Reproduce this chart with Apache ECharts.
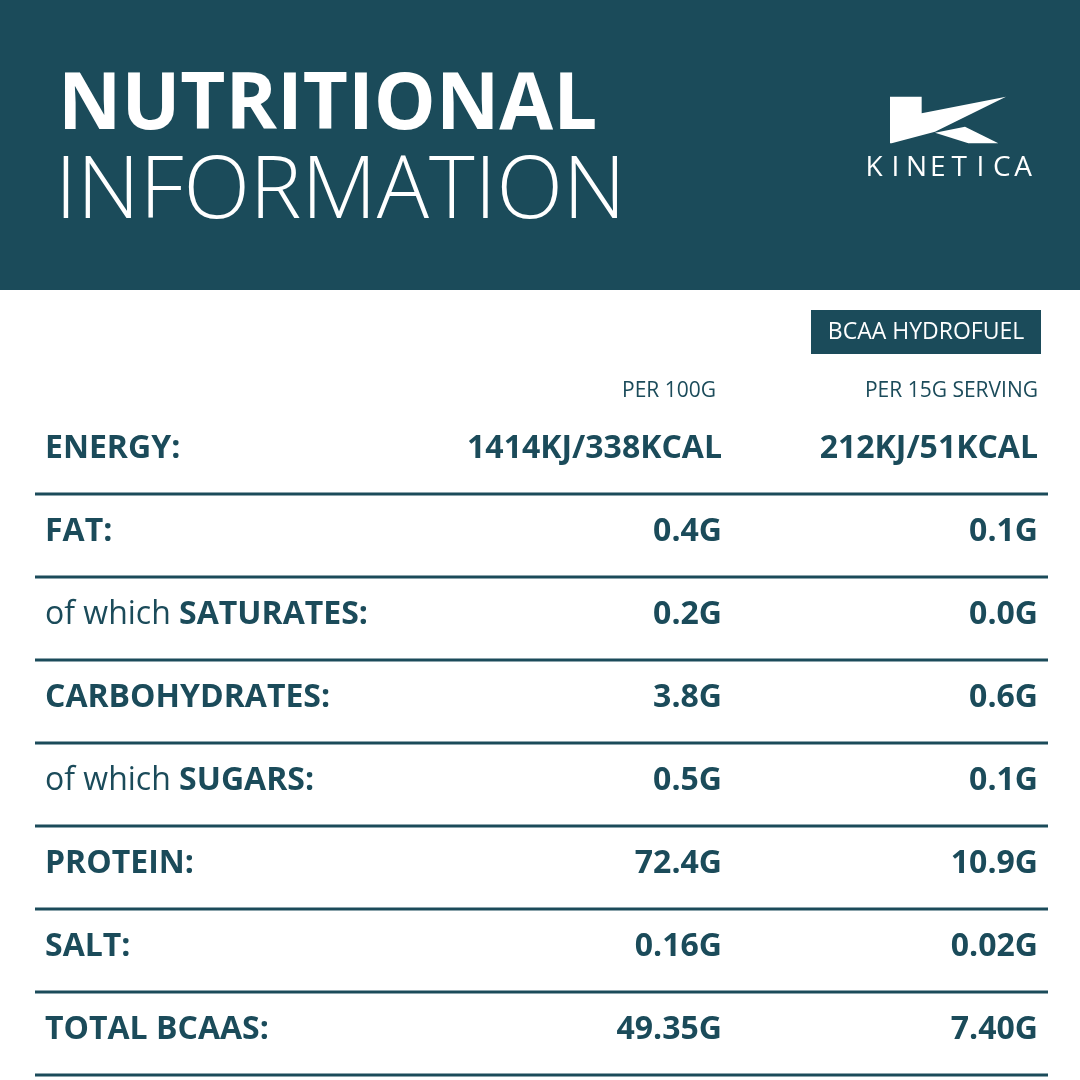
<!DOCTYPE html>
<html><head><meta charset="utf-8">
<script src="https://cdn.jsdelivr.net/npm/echarts@6/dist/echarts.min.js"></script>
<style>html,body{margin:0;padding:0;background:#fff}#c{width:1080px;height:1080px}</style>
</head><body><div id="c"></div>
<script>
const rowPrefixes = ['', '', 'of which ', '', 'of which ', '', '', ''];
const rowNames = ['ENERGY:', 'FAT:', 'SATURATES:', 'CARBOHYDRATES:', 'SUGARS:', 'PROTEIN:', 'SALT:', 'TOTAL BCAAS:'];
const per100g = ['1414KJ/338KCAL', '0.4G', '0.2G', '3.8G', '0.5G', '72.4G', '0.16G', '49.35G'];
const perServing = ['212KJ/51KCAL', '0.1G', '0.0G', '0.6G', '0.1G', '10.9G', '0.02G', '7.40G'];
const columnHeaders = ['PER 100G', 'PER 15G SERVING'];
const productName = 'BCAA HYDROFUEL';

const C = '#1b4b5a';
const F = '"Open Sans", sans-serif';
const chart = echarts.init(document.getElementById('c'));
const data = rowNames.map((n, i) => [0, i]);
const pts = (arr) => arr.map(p => [p[0] / 3 + 850, p[1] / 3 + 80]);
const kinetica = 'KINETICA'.split('');
chart.setOption({
  animation: false,
  grid: { left: 0, right: 0, top: 411, height: 664 },
  xAxis: { type: 'value', min: 0, max: 1080, show: false },
  yAxis: { type: 'category', data: rowNames, inverse: true, show: false },
  graphic: [
    { type: 'rect', shape: { x: 0, y: 0, width: 1080, height: 290 }, style: { fill: C } },
    { type: 'text', left: 58, top: 68, style: { text: 'NUTRITIONAL', fill: '#fff', font: 'bold 78px ' + F } },
    { type: 'text', left: 55, top: 150, style: { text: 'INFORMATION', fill: '#fff', font: '300 87px ' + F } },
    { type: 'polygon', shape: { points: pts([[120,50],[215,50],[215,100],[468,50],[255,155],[125,190],[120,190]]) }, style: { fill: '#fff' } },
    { type: 'polygon', shape: { points: pts([[255,158],[345,140],[445,190],[355,190]]) }, style: { fill: '#fff' } },
    ...kinetica.map((ch, i) => ({ type: 'text', x: 874 + i * 21.3, y: 168, style: { text: ch, fill: '#fff', font: '28px ' + F, align: 'center', verticalAlign: 'middle' } })),
    { type: 'rect', shape: { x: 811, y: 310, width: 230, height: 44 }, style: { fill: C } },
    { type: 'text', x: 926, y: 332, style: { text: productName, fill: '#fff', font: '23px ' + F, align: 'center', verticalAlign: 'middle' } },
    { type: 'text', x: 716, y: 391, style: { text: columnHeaders[0], fill: C, font: '21px ' + F, align: 'right', verticalAlign: 'middle' } },
    { type: 'text', x: 1038, y: 391, style: { text: columnHeaders[1], fill: C, font: '21px ' + F, align: 'right', verticalAlign: 'middle' } }
  ],
  series: [{
    type: 'custom',
    data: data,
    renderItem: function (params, api) {
      const i = api.value(1);
      const p = api.coord([0, i]);
      const h = api.size([0, 1])[1];
      const cy = p[1] - 4;
      const pre = rowPrefixes[i];
      const lbl = pre ? '{r|' + pre + '}{b|' + rowNames[i] + '}' : '{b|' + rowNames[i] + '}';
      return { type: 'group', children: [
        { type: 'text', x: 45, y: cy, style: { text: lbl, verticalAlign: 'middle', rich: {
          r: { font: '32px ' + F, fill: C }, b: { font: 'bold 32px ' + F, fill: C } } } },
        { type: 'text', x: 722, y: cy, style: { text: per100g[i], font: 'bold 32px ' + F, fill: C, align: 'right', verticalAlign: 'middle' } },
        { type: 'text', x: 1038, y: cy, style: { text: perServing[i], font: 'bold 32px ' + F, fill: C, align: 'right', verticalAlign: 'middle' } },
        { type: 'line', shape: { x1: 35, y1: p[1] + h / 2, x2: 1048, y2: p[1] + h / 2 }, style: { stroke: C, lineWidth: 3 } }
      ] };
    }
  }]
});
</script></body></html>
